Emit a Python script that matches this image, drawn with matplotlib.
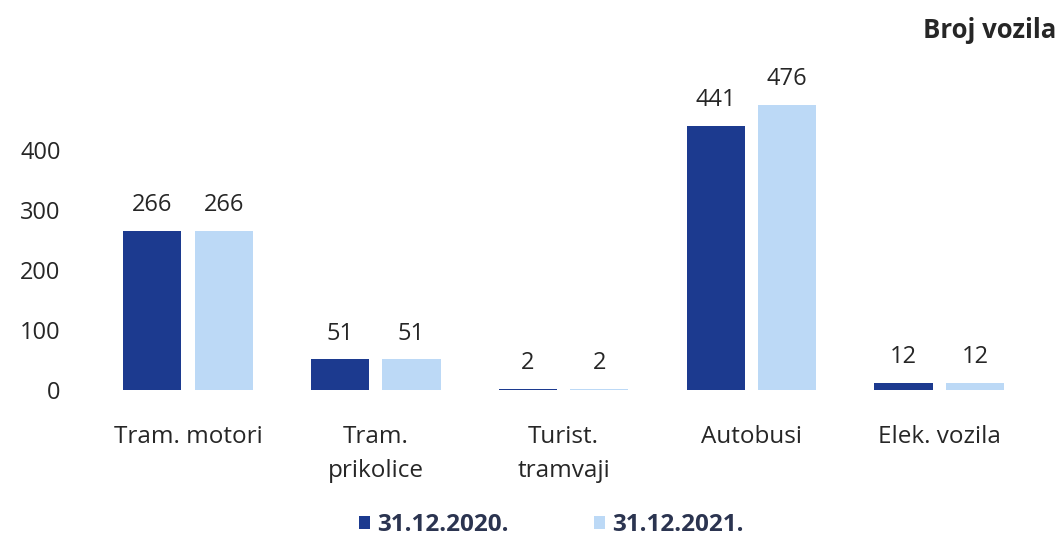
import numpy as np
import matplotlib.pyplot as plt

# data
categories = ['Tram. motori', 'Tram.\nprikolice', 'Turist.\ntramvaji', 'Autobusi', 'Elek. vozila']
values_2020 = [266, 51, 2, 441, 12]
values_2021 = [266, 51, 2, 476, 12]
series_labels = ['31.12.2020.', '31.12.2021.']

dark_blue = '#1c3a8f'
light_blue = '#bcd9f6'
text_color = '#262626'

plt.rcParams['font.family'] = ['Open Sans', 'DejaVu Sans']


def plot_chart():
    fig = plt.figure(figsize=(10.6, 5.47), dpi=100)
    ax = fig.add_axes([0.0887, 0.287, 0.886, 0.548])

    x = np.arange(len(categories))
    width = 0.31
    offset = 0.19
    b1 = ax.bar(x - offset, values_2020, width, color=dark_blue, label=series_labels[0])
    b2 = ax.bar(x + offset, values_2021, width, color=light_blue, label=series_labels[1])

    # value labels above bars
    for bars in (b1, b2):
        ax.bar_label(bars, padding=10, fontsize=17, color=text_color)

    ax.set_xlim(-0.5, len(categories) - 0.5)
    ax.set_ylim(0, 500)
    ax.set_yticks([0, 100, 200, 300, 400])
    ax.set_xticks(x)
    ax.set_xticklabels(categories, fontsize=17.5, color=text_color, linespacing=1.55)
    ax.tick_params(axis='y', labelsize=17, colors=text_color, length=0, pad=24)
    ax.tick_params(axis='x', length=0, pad=25)
    for s in ax.spines.values():
        s.set_visible(False)

    fig.text(0.996, 0.945, 'Broj vozila', ha='right', va='center',
             fontsize=18.5, fontweight='bold', color=text_color)

    leg = fig.legend(loc='center', bbox_to_anchor=(0.52, 0.04), ncol=2, frameon=False,
                     fontsize=17.5, handlelength=0.45, handleheight=0.45,
                     columnspacing=3.5, handletextpad=0.3)
    for t in leg.get_texts():
        t.set_fontweight('bold')
        t.set_color('#2b3450')

    fig.savefig('out.png', dpi=100)


def main():
    plot_chart()


if __name__ == "__main__":
    main()
